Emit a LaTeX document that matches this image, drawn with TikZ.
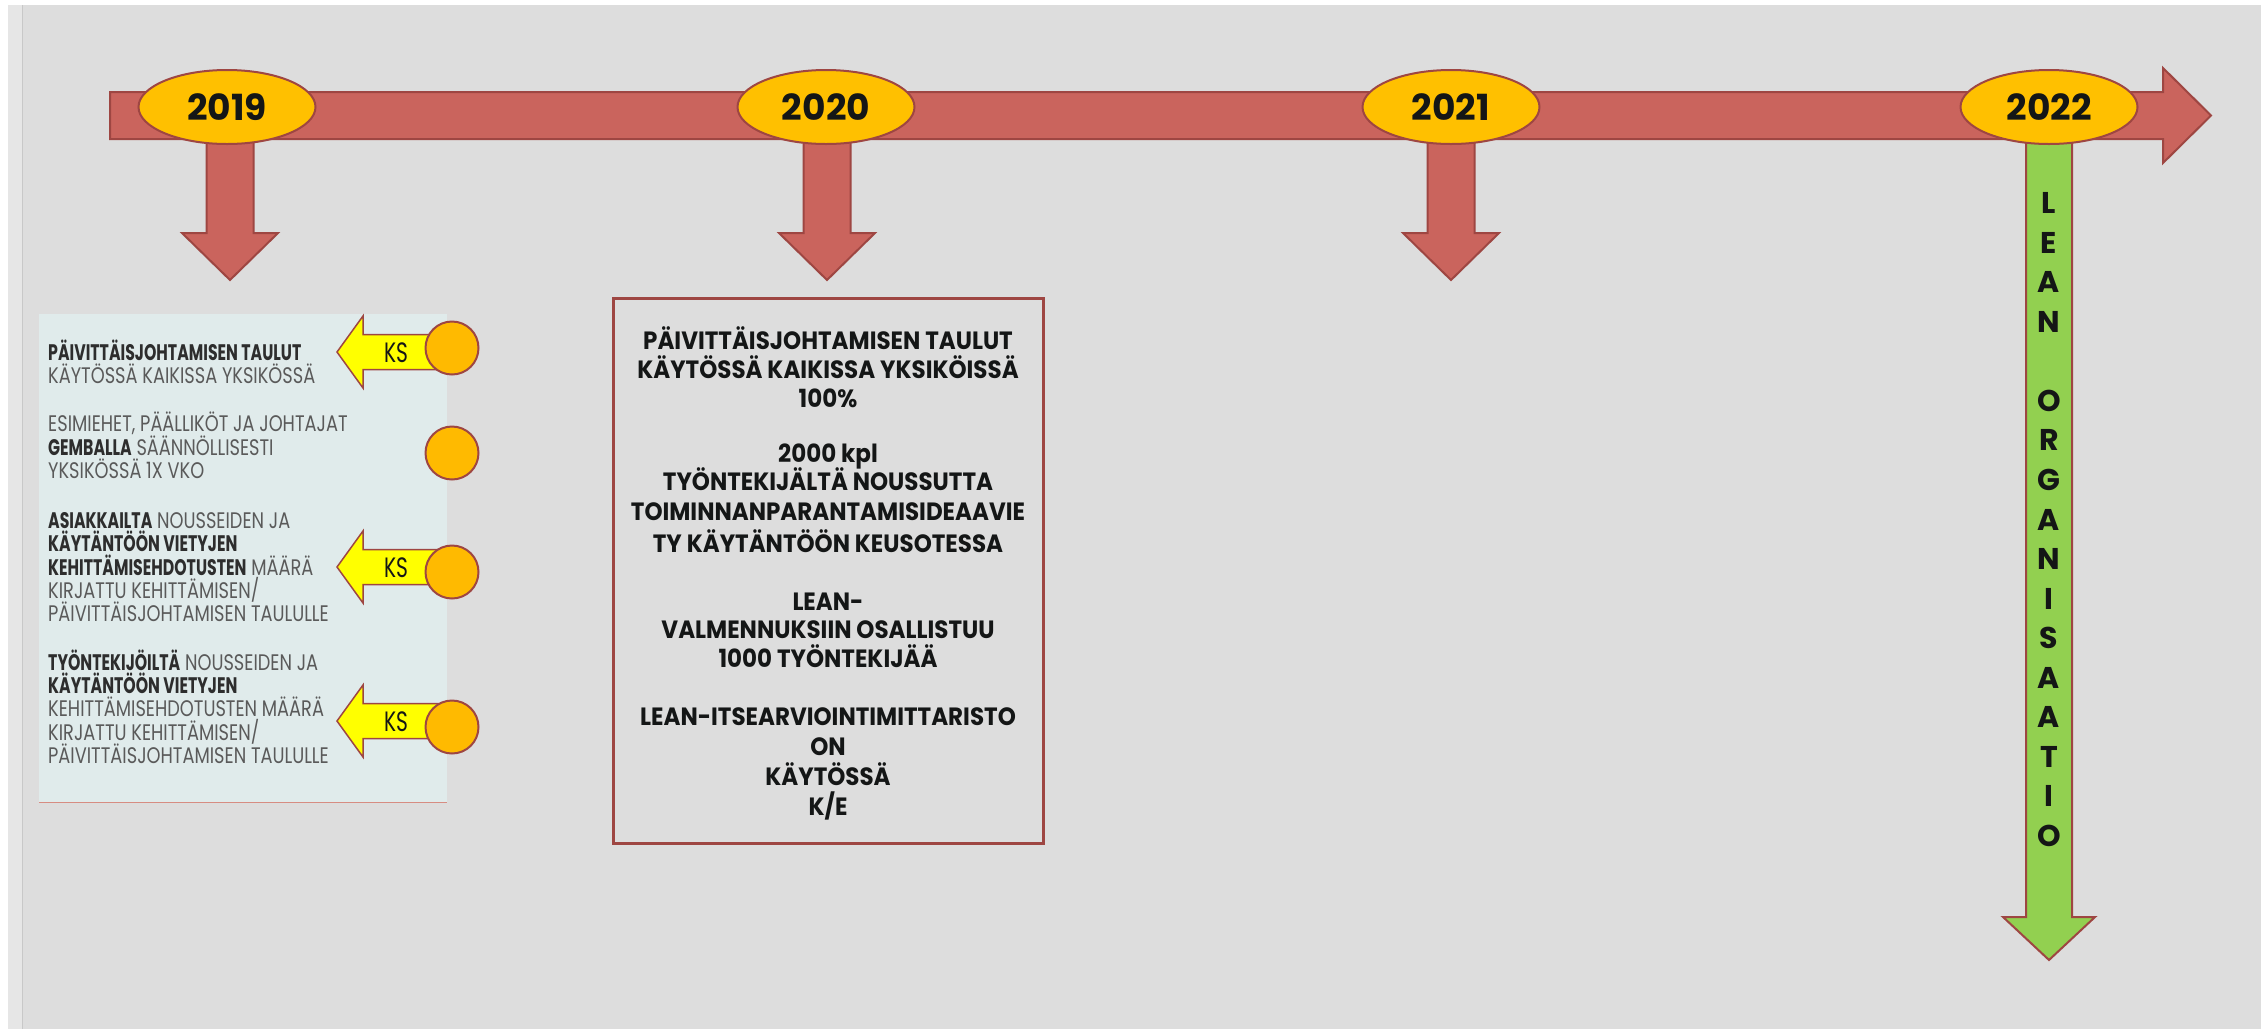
\documentclass[tikz,border=0pt]{standalone}
\usepackage{fontspec}
\usetikzlibrary{shapes.geometric}
\setmainfont{Poppins}
\newfontfamily\yearfont{Poppins}
\newfontfamily\panelfont{Poppins}[FakeStretch=0.79]
\newfontfamily\panelbold{Poppins}[FakeStretch=0.70]
\newfontfamily\boxfont{Poppins}[FakeStretch=0.92]
\newfontfamily\ksfont{Poppins}[FakeStretch=0.72]
\definecolor{bgc}{RGB}{221,221,221}
\definecolor{stripc}{RGB}{230,230,230}
\definecolor{edgec}{RGB}{200,200,200}
\definecolor{redfill}{RGB}{202,100,93}
\definecolor{redline}{RGB}{158,70,66}
\definecolor{yearfill}{RGB}{255,192,0}
\definecolor{greenfill}{RGB}{146,208,80}
\definecolor{ksyellow}{RGB}{255,255,0}
\definecolor{dotfill}{RGB}{255,186,0}
\definecolor{panelc}{RGB}{224,235,235}
\definecolor{panelline}{RGB}{215,140,130}
\definecolor{boldtxt}{RGB}{45,45,45}
\definecolor{regtxt}{RGB}{90,90,90}
\definecolor{darktxt}{RGB}{20,22,22}
\newcommand\pbold[1]{{\panelbold\bfseries\color{boldtxt}#1}}
\begin{document}
\begin{tikzpicture}[x=1pt,y=-1pt,
  redarrow/.style={fill=redfill,draw=redline,line width=2pt,line join=miter},
  greenarrow/.style={fill=greenfill,draw=redline,line width=2pt},
  yearell/.style={ellipse,fill=yearfill,draw=redline,line width=2pt,minimum width=177pt,minimum height=74pt,inner sep=0pt,
    font=\yearfont\bfseries\fontsize{36}{40}\selectfont,text=darktxt},
  greenletter/.style={inner sep=0pt,font=\yearfont\bfseries\fontsize{30}{32}\selectfont,text=darktxt},
  paneltext/.style={inner sep=0pt,anchor=base west,font=\panelfont\fontsize{22.5}{24}\selectfont,text=regtxt},
  boxtext/.style={inner sep=0pt,anchor=base,font=\boxfont\bfseries\fontsize{25}{28}\selectfont,text=darktxt},
  ksarrow/.style={fill=ksyellow,draw=redline,line width=1.5pt},
  kstext/.style={inner sep=0pt,font=\ksfont\fontsize{28}{30}\selectfont,text=darktxt},
  ksdot/.style={circle,fill=dotfill,draw=redline,line width=2pt,minimum size=53pt,inner sep=0pt},
  boxframe/.style={draw=redline,line width=3pt}
]
\useasboundingbox (0,0) rectangle (2261,1029);
% background
\fill[white] (0,0) rectangle (2261,1029);
\fill[stripc] (8,5) rectangle (2261,1029);
\fill[bgc] (23,5) rectangle (2261,1029);
\draw[edgec,line width=1.5pt] (22.5,5) -- (22.5,1029);

% down arrows
\foreach \cx in {230,827,1451}{
  \filldraw[redarrow] (\cx-23.5,125) -- (\cx+23.5,125) -- (\cx+23.5,233) -- (\cx+48,233) -- (\cx,280) -- (\cx-48,233) -- (\cx-23.5,233) -- cycle;
}
% green arrow
\filldraw[greenarrow] (2026,125) -- (2072,125) -- (2072,917) -- (2095,917) -- (2049,960) -- (2003,917) -- (2026,917) -- cycle;

% main timeline arrow
\filldraw[redarrow] (110,92) -- (2163,92) -- (2163,68) -- (2211,115.5) -- (2163,163) -- (2163,139) -- (110,139) -- cycle;

% year ellipses
\node[yearell] (y2019) at (227,107) {2019};
\node[yearell] (y2020) at (826,107) {2020};
\node[yearell] (y2021) at (1451,107) {2021};
\node[yearell] (y2022) at (2049,107) {2022};

% green vertical text
\foreach \ch [count=\i from 0] in {L,E,A,N,{},O,R,G,A,N,I,S,A,A,T,I,O}{
  \node[greenletter] (g\i) at (2049,203+\i*39.56) {\ch};
}

% left panel
\fill[panelc] (39,314) rectangle (447,803);
\draw[panelline,line width=1.5pt] (39,802.5) -- (447,802.5);

\node[paneltext] (p1) at (48,360) {\pbold{PÄIVITTÄISJOHTAMISEN TAULUT}};
\node[paneltext] (p2) at (48,383) {KÄYTÖSSÄ KAIKISSA YKSIKÖSSÄ};
\node[paneltext] (p3) at (48,431) {ESIMIEHET, PÄÄLLIKÖT JA JOHTAJAT};
\node[paneltext] (p4) at (48,455) {\pbold{GEMBALLA} SÄÄNNÖLLISESTI};
\node[paneltext] (p5) at (48,478) {YKSIKÖSSÄ 1X VKO};
\node[paneltext] (p6) at (48,528) {\pbold{ASIAKKAILTA} NOUSSEIDEN JA};
\node[paneltext] (p7) at (48,551) {\pbold{KÄYTÄNTÖÖN VIETYJEN}};
\node[paneltext] (p8) at (48,575) {\pbold{KEHITTÄMISEHDOTUSTEN} MÄÄRÄ};
\node[paneltext] (p9) at (48,598) {KIRJATTU KEHITTÄMISEN/};
\node[paneltext] (p10) at (48,621) {PÄIVITTÄISJOHTAMISEN TAULULLE};
\node[paneltext] (p11) at (48,670) {\pbold{TYÖNTEKIJÖILTÄ} NOUSSEIDEN JA};
\node[paneltext] (p12) at (48,693) {\pbold{KÄYTÄNTÖÖN VIETYJEN}};
\node[paneltext] (p13) at (48,716) {KEHITTÄMISEHDOTUSTEN MÄÄRÄ};
\node[paneltext] (p14) at (48,740) {KIRJATTU KEHITTÄMISEN/};
\node[paneltext] (p15) at (48,763) {PÄIVITTÄISJOHTAMISEN TAULULLE};

% KS arrows and dots
\foreach \cy/\dy [count=\k] in {352/348,567/572,721/727}{
  \filldraw[ksarrow] (337,\cy) -- (363,\cy-36) -- (363,\cy-17.5) -- (452,\cy-17.5) -- (452,\cy+17.5) -- (363,\cy+17.5) -- (363,\cy+36) -- cycle;
  \node[kstext] (ks\k) at (396,\cy+1) {KS};
  \node[ksdot] (dot\k) at (452,\dy) {};
}
\node[ksdot] (dot4) at (452,453) {};

% middle box
\draw[boxframe] (613,298) rectangle (1043,843);
\node[boxtext] (b1) at (828,349) {PÄIVITTÄISJOHTAMISEN TAULUT};
\node[boxtext] (b2) at (828,378) {KÄYTÖSSÄ KAIKISSA YKSIKÖISSÄ};
\node[boxtext] (b3) at (828,407) {100\%};
\node[boxtext] (b4) at (828,462) {2000 kpl};
\node[boxtext] (b5) at (828,490) {TYÖNTEKIJÄLTÄ NOUSSUTTA};
\node[boxtext] (b6) at (828,520) {TOIMINNANPARANTAMISIDEAAVIE};
\node[boxtext] (b7) at (828,552) {TY KÄYTÄNTÖÖN KEUSOTESSA};
\node[boxtext] (b8) at (828,610) {LEAN-};
\node[boxtext] (b9) at (828,638) {VALMENNUKSIIN OSALLISTUU};
\node[boxtext] (b10) at (828,667) {1000 TYÖNTEKIJÄÄ};
\node[boxtext] (b11) at (828,725) {LEAN-ITSEARVIOINTIMITTARISTO};
\node[boxtext] (b12) at (828,755) {ON};
\node[boxtext] (b13) at (828,785) {KÄYTÖSSÄ};
\node[boxtext] (b14) at (828,815) {K/E};
\end{tikzpicture}
\end{document}
